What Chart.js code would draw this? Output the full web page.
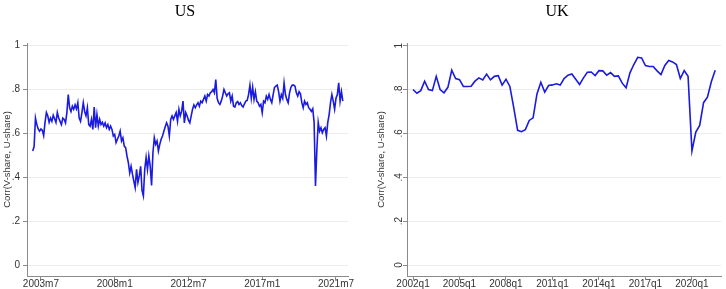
<!DOCTYPE html>
<html lang="en">
<head>
    <meta charset="UTF-8">
    <title>Corr(V-share, U-share): US and UK</title>
    <script src="https://cdn.jsdelivr.net/npm/chart.js"></script>
    <style>
        html, body {
            margin: 0;
            padding: 0;
            background: #fff;
            overflow: hidden;
        }
        .panel {
            position: absolute;
            top: 0;
            height: 289px;
        }
        #usBox { left: 0; width: 363px; }
        #ukBox { left: 363px; width: 363px; }
    </style>
</head>
<body>
    <div class="panel" id="usBox"><canvas id="usChart"></canvas></div>
    <div class="panel" id="ukBox"><canvas id="ukChart"></canvas></div>

    <script>
        // US, monthly, 2003m1 - 2021m12
        const usValues = [
            .52, .54, .67, .64, .62, .61, .62, .615, .59, .65, .695, .68,      // 2003
            .65, .67, .655, .683, .667, .65, .695, .67, .655, .64, .67, .664,  // 2004
            .648, .695, .777, .717, .70, .724, .71, .73, .712, .74, .67, .655, // 2005
            .695, .74, .70, .68, .717, .64, .633, .664, .618, .72, .626, .686, // 2006
            .633, .664, .64, .65, .633, .648, .626, .64, .618, .633, .618, .588, // 2007
            .595, .558, .573, .588, .61, .565, .58, .542, .535, .497, .467, .42, // 2008
            .45, .414, .383, .353, .436, .376, .406, .45, .34, .315, .436, .49,  // 2009
            .436, .497, .45, .363, .512, .58, .55, .565, .52, .55, .573, .588,  // 2010
            .61, .63, .648, .633, .588, .664, .68, .664, .68, .695, .655, .71,  // 2011
            .68, .70, .747, .648, .695, .68, .66, .648, .68, .71, .73, .717,    // 2012
            .73, .74, .724, .747, .74, .755, .77, .747, .777, .77, .785, .79,   // 2013
            .80, .785, .845, .76, .74, .732, .747, .77, .80, .785, .77, .78,    // 2014
            .785, .747, .77, .724, .72, .74, .745, .732, .74, .727, .72, .735,  // 2015
            .747, .75, .777, .82, .76, .81, .755, .79, .747, .74, .724, .732,   // 2016
            .694, .747, .74, .77, .755, .777, .755, .74, .777, .81, .815, .82,  // 2017
            .79, .747, .777, .76, .83, .777, .755, .74, .785, .81, .82, .82,    // 2018
            .815, .785, .77, .79, .78, .74, .717, .747, .732, .74, .717, .71,   // 2019
            .70, .712, .65, .36, .527, .65, .61, .626, .603, .618, .626, .588,  // 2020
            .65, .686, .74, .777, .747, .71, .76, .777, .83, .747, .79, .747    // 2021
        ];
        const usTickLabels = ['2003m7', '2008m1', '2012m7', '2017m1', '2021m7'];

        // UK, quarterly, 2002q1 - 2021q3
        const ukValues = [
            .80, .783, .795, .838, .80, .795, .86, .80, .785, .81, .888, .85,
            .845, .814, .814, .815, .838, .853, .844, .87, .844, .86, .863, .82,
            .847, .814, .717, .614, .608, .617, .659, .671, .78, .833, .788, .818,
            .821, .826, .82, .85, .865, .871, .847, .823, .853, .879, .88, .864,
            .886, .885, .865, .877, .86, .862, .829, .808, .876, .914, .947, .944,
            .909, .905, .905, .885, .868, .91, .932, .926, .914, .85, .886, .86,
            .52, .606, .636, .74, .765, .835, .888
        ];
        const ukTickLabels = ['2002q1', '2005q1', '2008q1', '2011q1', '2014q1', '2017q1', '2020q1'];

        const yTickValues = [0, .2, .4, .6, .8, 1];
        const yTickLabels = ['0', '.2', '.4', '.6', '.8', '1'];
        const yTitle = 'Corr(V-share, U-share)';

        // period names for the x axes
        const usMonths = [];
        for (let y = 2003; usMonths.length < usValues.length; y++) {
            for (let m = 1; m <= 12; m++) usMonths.push(y + 'm' + m);
        }
        const ukQuarters = [];
        for (let y = 2002; ukQuarters.length < ukValues.length; y++) {
            for (let q = 1; q <= 4; q++) ukQuarters.push(y + 'q' + q);
        }

        const LINE = '#1a1ae0';
        const AXIS = '#8a8a8a';
        const GRID = '#ececec';
        const TICK_FONT = { family: '"Liberation Sans", Arial, sans-serif', size: 10 };

        // panel heading ("US" / "UK")
        const panelTitle = {
            id: 'panelTitle',
            afterDraw(chart, args, opts) {
                const ctx = chart.ctx;
                ctx.save();
                ctx.font = '16px "Liberation Serif", "Times New Roman", serif';
                ctx.fillStyle = '#000';
                ctx.textAlign = 'center';
                ctx.textBaseline = 'middle';
                ctx.fillText(opts.text, opts.x, opts.y);
                ctx.restore();
            }
        };

        function makeChart(id, cfg) {
            return new Chart(document.getElementById(id), {
                type: 'line',
                data: {
                    datasets: [{
                        data: cfg.values.map((v, i) => ({ x: i, y: v })),
                        borderColor: LINE,
                        borderWidth: 1.6,
                        pointRadius: 0,
                        tension: 0,
                        fill: false
                    }]
                },
                options: {
                    responsive: true,
                    maintainAspectRatio: false,
                    devicePixelRatio: 1,
                    animation: false,
                    layout: { padding: { top: 43, right: cfg.padRight } },
                    plugins: {
                        legend: { display: false },
                        tooltip: { enabled: false },
                        panelTitle: { text: cfg.title, x: cfg.titleX, y: 12 }
                    },
                    scales: {
                        x: {
                            type: 'linear',
                            min: cfg.xMin,
                            max: cfg.xMax,
                            afterBuildTicks: axis => {
                                axis.ticks = cfg.tickLabels.map(l => ({ value: cfg.periods.indexOf(l) }));
                            },
                            afterFit: axis => { axis.height = 13; },
                            ticks: {
                                callback: v => cfg.periods[v],
                                autoSkip: false,
                                maxRotation: 0,
                                padding: -2,
                                color: '#333',
                                font: TICK_FONT
                            },
                            grid: { drawOnChartArea: false, tickColor: AXIS, tickLength: 4 },
                            border: { color: AXIS, width: 1 }
                        },
                        y: {
                            min: -0.05,
                            max: 1.012,
                            afterBuildTicks: axis => {
                                axis.ticks = yTickValues.map(v => ({ value: v }));
                            },
                            afterFit: axis => { axis.width = cfg.yWidth; },
                            ticks: {
                                callback: (v, i) => yTickLabels[i],
                                minRotation: cfg.yRot,
                                maxRotation: cfg.yRot,
                                crossAlign: cfg.yRot ? 'center' : 'near',
                                padding: cfg.yRot ? 0 : 3,
                                color: '#333',
                                font: TICK_FONT
                            },
                            grid: { color: GRID, tickColor: AXIS, tickLength: 4 },
                            border: { color: AXIS, width: 1 },
                            title: {
                                display: true,
                                text: yTitle,
                                color: '#333',
                                font: { family: '"Liberation Sans", Arial, sans-serif', size: 9.5 },
                                padding: { top: cfg.yTitlePad, bottom: 0 }
                            }
                        }
                    }
                },
                plugins: [panelTitle]
            });
        }

        makeChart('usChart', {
            title: 'US', titleX: 185,
            values: usValues, periods: usMonths, tickLabels: usTickLabels,
            xMin: -4.2, xMax: 230.8,
            yWidth: 27, yRot: 0, yTitlePad: 2, padRight: 15
        });

        makeChart('ukChart', {
            title: 'UK', titleX: 194,
            values: ukValues, periods: ukQuarters, tickLabels: ukTickLabels,
            xMin: -1.55, xMax: 79.5,
            yWidth: 44, yRot: 90, yTitlePad: 13, padRight: 5
        });
    </script>
</body>
</html>
